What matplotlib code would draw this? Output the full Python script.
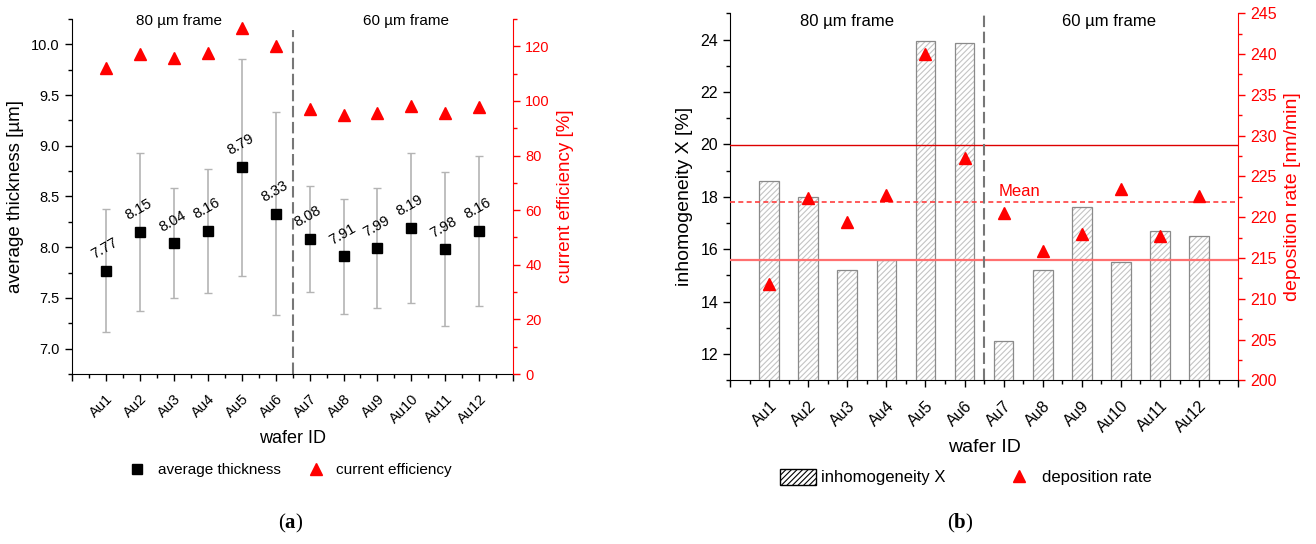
from __future__ import annotations

import matplotlib

matplotlib.use("Agg")
import matplotlib.pyplot as plt
import numpy as np
from matplotlib.lines import Line2D
from matplotlib.patches import Patch
from matplotlib.ticker import FormatStrFormatter, MultipleLocator

plt.rcParams["font.family"] = ["Liberation Sans", "DejaVu Sans"]
plt.rcParams["hatch.linewidth"] = 0.8
plt.rcParams["mathtext.fontset"] = "custom"
plt.rcParams["mathtext.rm"] = "Liberation Serif"
plt.rcParams["mathtext.bf"] = "Liberation Serif:bold"

RED = "#ff0000"
SERIF = ["Liberation Serif", "DejaVu Serif"]

wafer_ids = ["Au1", "Au2", "Au3", "Au4", "Au5", "Au6",
             "Au7", "Au8", "Au9", "Au10", "Au11", "Au12"]
avg_thickness = [7.77, 8.15, 8.04, 8.16, 8.79, 8.33, 8.08, 7.91, 7.99, 8.19, 7.98, 8.16]
thickness_err = [0.61, 0.78, 0.54, 0.61, 1.07, 1.00, 0.52, 0.57, 0.59, 0.74, 0.76, 0.74]
current_efficiency = [111.9, 117.3, 115.7, 117.6, 126.6, 120.0, 96.9, 94.7, 95.6, 98.1, 95.6, 97.8]
inhomogeneity = [18.6, 18.0, 15.2, 15.6, 23.95, 23.85, 12.5, 15.2, 17.6, 15.5, 16.7, 16.5]
deposition_rate = [211.8, 222.4, 219.4, 222.7, 240.0, 227.3, 220.5, 215.8, 218.0, 223.5, 217.7, 222.6]
frame_labels = ["80 µm frame", "60 µm frame"]


def _style_axes(axis, right_axis, tick_size: float):
    """Origin-like look: no top spine, red right axis, outward ticks, Au1..Au12 at 1..12."""
    axis.spines["top"].set_visible(False)
    axis.spines["right"].set_visible(False)
    for side in ("top", "left", "bottom"):
        right_axis.spines[side].set_visible(False)
    right_axis.spines["right"].set_color(RED)
    axis.tick_params(axis="both", which="major", direction="out", length=5, width=1,
                     labelsize=tick_size)
    axis.tick_params(axis="x", which="major", pad=8)
    axis.tick_params(axis="both", which="minor", direction="out", length=3, width=1)
    right_axis.tick_params(axis="y", which="major", direction="out", length=5, width=1,
                           colors=RED, labelsize=tick_size)
    right_axis.tick_params(axis="y", which="minor", direction="out", length=3, width=1,
                           colors=RED)
    axis.set_xlim(0, 13)
    axis.xaxis.set_minor_locator(MultipleLocator(0.5))
    axis.set_xticks(np.arange(0, 14))
    axis.set_xticklabels([""] + wafer_ids + [""], rotation=45, ha="right",
                         rotation_mode="anchor")
    return np.arange(1, len(wafer_ids) + 1)


figure = plt.figure(figsize=(13.16, 5.44), dpi=100)

# ---------- (a) thickness and current efficiency ----------
ax_a = figure.add_axes([0.0545, 0.3125, 0.3356, 0.6526])
ax_a2 = ax_a.twinx()
x = _style_axes(ax_a, ax_a2, 10.5)

ax_a.errorbar(x, avg_thickness, yerr=thickness_err, fmt="none", ecolor="#b4b4b4",
              elinewidth=1.2, capsize=3, capthick=1, zorder=2)
ax_a.plot(x, avg_thickness, "s", color="black", markersize=7, zorder=4)
for xi, value in zip(x, avg_thickness):
    ax_a.annotate(f"{value:.2f}", (xi, value), xytext=(-1, 16), textcoords="offset points",
                  ha="center", va="center", rotation=30, fontsize=10.5)
ax_a2.plot(x, current_efficiency, "^", color=RED, markersize=8, zorder=4)

ax_a.set_ylim(6.75, 10.25)
ax_a.yaxis.set_major_locator(MultipleLocator(0.5))
ax_a.yaxis.set_minor_locator(MultipleLocator(0.25))
ax_a.yaxis.set_major_formatter(FormatStrFormatter("%.1f"))
ax_a2.set_ylim(0, 130)
ax_a2.yaxis.set_major_locator(MultipleLocator(20))
ax_a2.yaxis.set_minor_locator(MultipleLocator(10))

ax_a.axvline(6.5, ymax=0.97, color="#777777", linestyle=(0, (5.5, 2.2)), linewidth=1.5)
ax_a.text(3.15, 0.995, frame_labels[0], transform=ax_a.get_xaxis_transform(),
          ha="center", va="center", fontsize=11)
ax_a.text(9.85, 0.995, frame_labels[1], transform=ax_a.get_xaxis_transform(),
          ha="center", va="center", fontsize=11)

ax_a.set_ylabel("average thickness [µm]", fontsize=13.5, labelpad=5)
ax_a2.set_ylabel("current efficiency [%]", fontsize=13.5, color=RED, labelpad=5)
ax_a.set_xlabel("wafer ID", fontsize=13, labelpad=3)

legend_a = [
    Line2D([], [], marker="s", color="black", linestyle="none", markersize=7),
    Line2D([], [], marker="^", color=RED, linestyle="none", markersize=8),
]
figure.legend(legend_a, ["average thickness", "current efficiency"], loc="center",
              bbox_to_anchor=(0.221, 0.136), ncol=2, frameon=False, fontsize=11,
              columnspacing=1.8, handletextpad=0.85, handlelength=1.0)
figure.text(0.221, 0.038, r"($\mathbf{a}$)", ha="center", va="center", fontsize=15,
            family=SERIF)

# ---------- (b) inhomogeneity and deposition rate ----------
ax_b = figure.add_axes([0.5547, 0.3009, 0.3862, 0.6746])
ax_b2 = ax_b.twinx()
x = _style_axes(ax_b, ax_b2, 11.5)
ax_b.set_zorder(ax_b2.get_zorder() + 1)
ax_b.patch.set_visible(False)

bar_heights = np.array(inhomogeneity) - 11
ax_b.bar(x, bar_heights, width=0.5, bottom=11, facecolor="white",
         edgecolor="#c4c4c4", hatch="//////", linewidth=0, zorder=3)
ax_b.bar(x, bar_heights, width=0.5, bottom=11, fill=False,
         edgecolor="#8a8a8a", linewidth=0.9, zorder=3)
ax_b.set_ylim(11, 25)
ax_b.yaxis.set_major_locator(MultipleLocator(2))
ax_b.yaxis.set_minor_locator(MultipleLocator(1))

rate_mean = np.mean(deposition_rate)
rate_std = np.std(deposition_rate, ddof=1)
ax_b2.set_ylim(200, 245)
ax_b2.yaxis.set_major_locator(MultipleLocator(5))
ax_b2.yaxis.set_minor_locator(MultipleLocator(2.5))

# triangles and mean lines belong to the right scale but must sit above the bars,
# so map them from ax_b2 data space into ax_b
to_b = ax_b2.transData + ax_b.transData.inverted()
tri_xy = to_b.transform(np.column_stack([x, deposition_rate]))
ax_b.plot(tri_xy[:, 0], tri_xy[:, 1], "^", color=RED, markersize=8, zorder=5)
for level, style, colour, width in [
    (rate_mean + rate_std, "-", "#dd0000", 1.0),
    (rate_mean, (0, (3, 2)), "#ff4040", 1.2),
    (rate_mean - rate_std, "-", "#ff7070", 1.6),
]:
    y_level = to_b.transform([[0, level]])[0, 1]
    ax_b.axhline(y_level, color=colour, linestyle=style, linewidth=width, zorder=4)
ax_b.text(6.88, to_b.transform([[0, rate_mean + 0.4]])[0, 1], "Mean", color=RED,
          fontsize=12, ha="left", va="bottom", zorder=5)

ax_b.axvline(6.5, color="#777777", linestyle=(0, (5.5, 2.2)), linewidth=1.5, zorder=5)
ax_b.text(3.0, 0.977, frame_labels[0], transform=ax_b.get_xaxis_transform(),
          ha="center", va="center", fontsize=12)
ax_b.text(9.7, 0.977, frame_labels[1], transform=ax_b.get_xaxis_transform(),
          ha="center", va="center", fontsize=12)

ax_b.set_ylabel("inhomogeneity X [%]", fontsize=14, labelpad=5)
ax_b2.set_ylabel("deposition rate [nm/min]", fontsize=14, color=RED, labelpad=5)
ax_b.set_xlabel("wafer ID", fontsize=14, labelpad=3)

legend_b = [
    Patch(facecolor="white", edgecolor="black", hatch="//////", linewidth=1),
    Line2D([], [], marker="^", color=RED, linestyle="none", markersize=8),
]
figure.legend(legend_b, ["inhomogeneity X", "deposition rate"], loc="center",
              bbox_to_anchor=(0.734, 0.123), ncol=2, frameon=False, fontsize=12,
              columnspacing=3.3, handletextpad=0.3, handlelength=2.2, handleheight=1.1)
figure.text(0.73, 0.038, r"($\mathbf{b}$)", ha="center", va="center", fontsize=15,
            family=SERIF)

figure.savefig("out.png", dpi=100)
plt.close(figure)
